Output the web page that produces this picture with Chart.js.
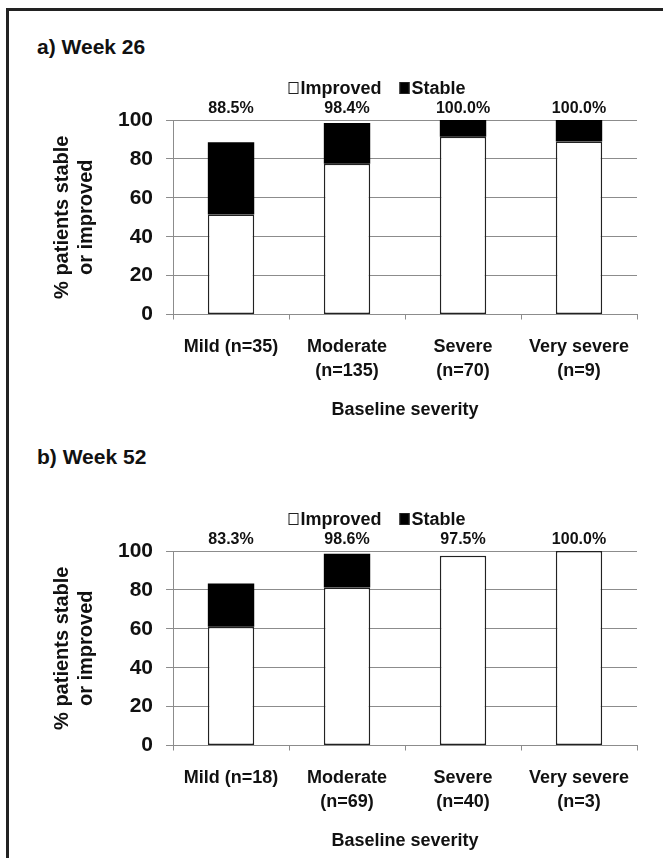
<!DOCTYPE html>
<html>
<head>
<meta charset="utf-8">
<script src="https://cdn.jsdelivr.net/npm/chart.js@4.4.1/dist/chart.umd.min.js"></script>
<style>
  html, body { margin: 0; padding: 0; background: #fff; }
  body { width: 663px; height: 858px; position: relative; overflow: hidden; font-family: "Liberation Sans", Arial, sans-serif; }
  .frame { position: absolute; left: 6px; top: 8px; width: 700px; height: 900px; border-left: 3px solid #222; border-top: 3px solid #222; }
  .panel-title { position: absolute; left: 37px; font-weight: bold; font-size: 21px; color: #111; }
  .wrap { position: absolute; left: 0; width: 663px; }
</style>
</head>
<body>
<div class="frame"></div>
<div class="panel-title" style="top:35px">a) Week 26</div>
<div class="panel-title" style="top:445px">b) Week 52</div>
<div class="wrap" style="top:0;height:430px"><canvas id="week26Chart"></canvas></div>
<div class="wrap" style="top:430px;height:428px"><canvas id="week52Chart"></canvas></div>
<script>
// Week 26
const categories26 = ['Mild (n=35)', ['Moderate', '(n=135)'], ['Severe', '(n=70)'], ['Very severe', '(n=9)']];
const improved26 = [51.4, 77.5, 91.4, 88.9];
const stable26 = [37.1, 20.9, 8.6, 11.1];
const totals26 = ['88.5%', '98.4%', '100.0%', '100.0%'];

// Week 52
const categories52 = ['Mild (n=18)', ['Moderate', '(n=69)'], ['Severe', '(n=40)'], ['Very severe', '(n=3)']];
const improved52 = [61.1, 81.2, 97.5, 100];
const stable52 = [22.2, 17.4, 0, 0];
const totals52 = ['83.3%', '98.6%', '97.5%', '100.0%'];

const yTicks = [0, 20, 40, 60, 80, 100];

const FONT = '"Liberation Sans", Arial, sans-serif';
const GRID = '#8c8c8c';

// legend drawn above the plot, a bit left of centre like the original
const topLegend = {
    id: 'topLegend',
    afterDraw(chart) {
        const { ctx, chartArea } = chart;
        ctx.save();
        ctx.font = 'bold 18px ' + FONT;
        ctx.textBaseline = 'middle';
        const items = chart.data.datasets.map(ds => ({ text: ds.label, fill: ds.backgroundColor }));
        const boxW = 10, boxH = 12, gapBox = 2, gapItem = 18;
        let total = 0;
        items.forEach((it, i) => {
            it.w = ctx.measureText(it.text).width;
            total += boxW + gapBox + it.w + (i ? gapItem : 0);
        });
        let x = (chartArea.left + chartArea.right) / 2 - 28 - total / 2;
        const y = chartArea.top - 32;
        items.forEach((it, i) => {
            if (i) x += gapItem;
            ctx.fillStyle = it.fill;
            ctx.fillRect(x, y - boxH / 2, boxW, boxH);
            ctx.strokeStyle = '#222';
            ctx.lineWidth = 1;
            ctx.strokeRect(x + 0.5, y - boxH / 2 + 0.5, boxW - 1, boxH - 1);
            x += boxW + gapBox;
            ctx.fillStyle = '#111';
            ctx.fillText(it.text, x, y + 1);
            x += it.w;
        });
        ctx.restore();
    }
};

// total % written over each column
const totalLabels = {
    id: 'totalLabels',
    afterDatasetsDraw(chart, args, opts) {
        const { ctx, chartArea } = chart;
        const meta = chart.getDatasetMeta(chart.data.datasets.length - 1);
        ctx.save();
        ctx.font = 'bold 16px ' + FONT;
        ctx.fillStyle = '#111';
        ctx.textAlign = 'center';
        ctx.textBaseline = 'bottom';
        meta.data.forEach((bar, i) => {
            ctx.fillText(opts.labels[i], bar.x, chartArea.top - 3);
        });
        ctx.restore();
    }
};

function makeChart(id, labels, improved, stable, totals, padTop, padBottom) {
    return new Chart(document.getElementById(id), {
        type: 'bar',
        data: {
            labels: labels,
            datasets: [{
                label: 'Improved',
                data: improved,
                backgroundColor: '#ffffff',
                borderColor: '#222',
                borderWidth: 1.5,
                borderSkipped: false
            }, {
                label: 'Stable',
                data: stable,
                backgroundColor: '#000000',
                borderColor: '#000',
                borderWidth: 0
            }]
        },
        options: {
            responsive: true,
            maintainAspectRatio: false,
            animation: false,
            categoryPercentage: 1,
            barPercentage: 0.4,
            layout: { padding: { top: padTop, bottom: padBottom, left: 46, right: 26 } },
            plugins: {
                legend: { display: false },
                tooltip: { enabled: false },
                totalLabels: { labels: totals }
            },
            scales: {
                x: {
                    stacked: true,
                    grid: { drawOnChartArea: false, drawTicks: true, tickLength: 5, color: GRID, offset: true },
                    border: { color: GRID },
                    ticks: { color: '#111', padding: 16, maxRotation: 0, autoSkip: false,
                        font: { family: FONT, size: 18, weight: 'bold', lineHeight: 1.33 } },
                    title: { display: true, text: 'Baseline severity', color: '#111',
                        padding: { top: 0, bottom: 4 },
                        font: { family: FONT, size: 18, weight: 'bold', lineHeight: 1.2 } }
                },
                y: {
                    stacked: true,
                    min: 0,
                    max: 100,
                    afterBuildTicks: axis => { axis.ticks = yTicks.map(v => ({ value: v })); },
                    grid: { color: GRID, tickLength: 7 },
                    border: { color: GRID },
                    ticks: { color: '#111', padding: 13,
                        font: { family: FONT, size: 21, weight: 'bold' } },
                    title: { display: true, text: ['% patients stable', 'or improved'], color: '#111',
                        padding: { top: 4, bottom: 7 },
                        font: { family: FONT, size: 20, weight: 'bold', lineHeight: 1.2 } }
                }
            }
        },
        plugins: [topLegend, totalLabels]
    });
}

document.addEventListener('DOMContentLoaded', function() {
    makeChart('week26Chart', categories26, improved26, stable26, totals26, 120, 5);
    makeChart('week52Chart', categories52, improved52, stable52, totals52, 121, 2);
});
</script>
</body>
</html>
